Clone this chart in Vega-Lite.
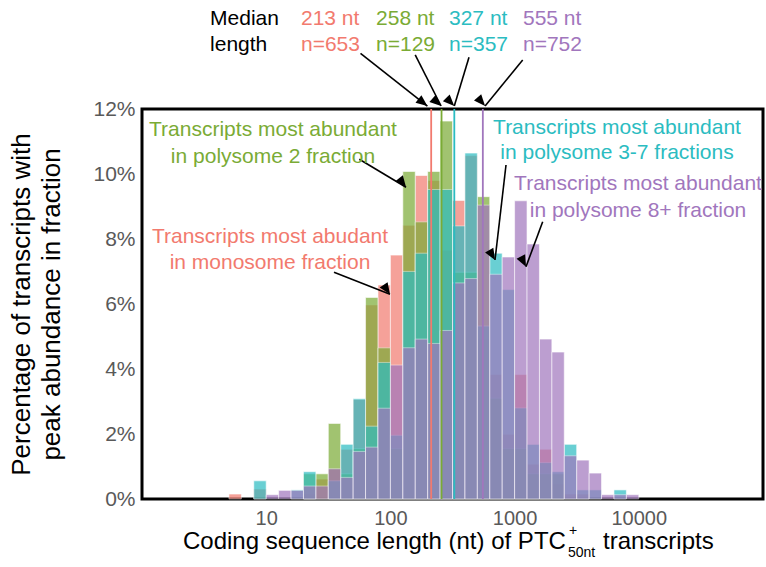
{
  "$schema": "https://vega.github.io/schema/vega-lite/v6.json",
  "autosize": "none",
  "width": 621,
  "height": 390,
  "padding": {"left": 142, "top": 109, "right": 3, "bottom": 68},
  "background": "white",
  "config": {
    "font": "Liberation Sans",
    "view": {"stroke": "black", "strokeWidth": 3},
    "axis": {"grid": false, "domain": false, "tickColor": "black", "tickWidth": 1.5, "labelFont": "Liberation Sans", "titleFont": "Liberation Sans"}
  },
  "datasets": {
    "bins": [
      {"g":"M","lo":5.012,"hi":6.310,"pct":0.153},
      {"g":"M","lo":7.943,"hi":10,"pct":0.306},
      {"g":"M","lo":19.953,"hi":25.119,"pct":0.153},
      {"g":"M","lo":25.119,"hi":31.623,"pct":0.613},
      {"g":"M","lo":31.623,"hi":39.811,"pct":0.919},
      {"g":"M","lo":39.811,"hi":50.119,"pct":1.531},
      {"g":"M","lo":50.119,"hi":63.096,"pct":3.063},
      {"g":"M","lo":63.096,"hi":79.433,"pct":5.972},
      {"g":"M","lo":79.433,"hi":100,"pct":6.585},
      {"g":"M","lo":100,"hi":125.89,"pct":7.504},
      {"g":"M","lo":125.89,"hi":158.49,"pct":8.423},
      {"g":"M","lo":158.49,"hi":199.53,"pct":9.954},
      {"g":"M","lo":199.53,"hi":251.19,"pct":9.801},
      {"g":"M","lo":251.19,"hi":316.23,"pct":7.657},
      {"g":"M","lo":316.23,"hi":398.11,"pct":9.188},
      {"g":"M","lo":398.11,"hi":501.19,"pct":10.567},
      {"g":"M","lo":501.19,"hi":630.96,"pct":4.900},
      {"g":"M","lo":630.96,"hi":794.33,"pct":3.828},
      {"g":"M","lo":794.33,"hi":1000,"pct":1.991},
      {"g":"M","lo":1000,"hi":1258.9,"pct":3.828},
      {"g":"M","lo":1258.9,"hi":1584.9,"pct":1.072},
      {"g":"M","lo":1584.9,"hi":1995.3,"pct":1.531},
      {"g":"M","lo":1995.3,"hi":2511.9,"pct":0.459},
      {"g":"M","lo":2511.9,"hi":3162.3,"pct":0.153},
      {"g":"M","lo":3162.3,"hi":3981.1,"pct":0.153},

      {"g":"P2","lo":19.953,"hi":25.119,"pct":0.775},
      {"g":"P2","lo":25.119,"hi":31.623,"pct":0.775},
      {"g":"P2","lo":31.623,"hi":39.811,"pct":2.326},
      {"g":"P2","lo":39.811,"hi":50.119,"pct":0.775},
      {"g":"P2","lo":50.119,"hi":63.096,"pct":1.550},
      {"g":"P2","lo":63.096,"hi":79.433,"pct":6.202},
      {"g":"P2","lo":79.433,"hi":100,"pct":4.651},
      {"g":"P2","lo":100,"hi":125.89,"pct":1.550},
      {"g":"P2","lo":125.89,"hi":158.49,"pct":10.078},
      {"g":"P2","lo":158.49,"hi":199.53,"pct":8.527},
      {"g":"P2","lo":199.53,"hi":251.19,"pct":10.078},
      {"g":"P2","lo":251.19,"hi":316.23,"pct":11.628},
      {"g":"P2","lo":316.23,"hi":398.11,"pct":6.977},
      {"g":"P2","lo":398.11,"hi":501.19,"pct":6.977},
      {"g":"P2","lo":501.19,"hi":630.96,"pct":9.302},
      {"g":"P2","lo":630.96,"hi":794.33,"pct":3.101},
      {"g":"P2","lo":794.33,"hi":1000,"pct":1.550},
      {"g":"P2","lo":1000,"hi":1258.9,"pct":1.550},
      {"g":"P2","lo":1258.9,"hi":1584.9,"pct":0.775},
      {"g":"P2","lo":1584.9,"hi":1995.3,"pct":0.775},
      {"g":"P2","lo":1995.3,"hi":2511.9,"pct":0.775},

      {"g":"P37","lo":7.943,"hi":10,"pct":0.560},
      {"g":"P37","lo":15.849,"hi":19.953,"pct":0.280},
      {"g":"P37","lo":19.953,"hi":25.119,"pct":0.840},
      {"g":"P37","lo":31.623,"hi":39.811,"pct":0.560},
      {"g":"P37","lo":39.811,"hi":50.119,"pct":1.681},
      {"g":"P37","lo":50.119,"hi":63.096,"pct":3.081},
      {"g":"P37","lo":63.096,"hi":79.433,"pct":2.241},
      {"g":"P37","lo":79.433,"hi":100,"pct":4.202},
      {"g":"P37","lo":100,"hi":125.89,"pct":1.961},
      {"g":"P37","lo":125.89,"hi":158.49,"pct":7.003},
      {"g":"P37","lo":158.49,"hi":199.53,"pct":7.563},
      {"g":"P37","lo":199.53,"hi":251.19,"pct":9.524},
      {"g":"P37","lo":251.19,"hi":316.23,"pct":9.524},
      {"g":"P37","lo":316.23,"hi":398.11,"pct":8.403},
      {"g":"P37","lo":398.11,"hi":501.19,"pct":10.644},
      {"g":"P37","lo":501.19,"hi":630.96,"pct":5.322},
      {"g":"P37","lo":630.96,"hi":794.33,"pct":7.563},
      {"g":"P37","lo":794.33,"hi":1000,"pct":6.443},
      {"g":"P37","lo":1000,"hi":1258.9,"pct":2.801},
      {"g":"P37","lo":1258.9,"hi":1584.9,"pct":1.681},
      {"g":"P37","lo":1584.9,"hi":1995.3,"pct":1.120},
      {"g":"P37","lo":1995.3,"hi":2511.9,"pct":0.840},
      {"g":"P37","lo":2511.9,"hi":3162.3,"pct":1.681},
      {"g":"P37","lo":3162.3,"hi":3981.1,"pct":0.280},
      {"g":"P37","lo":3981.1,"hi":5011.9,"pct":0.280},
      {"g":"P37","lo":6309.6,"hi":7943.3,"pct":0.280},

      {"g":"P8","lo":10,"hi":12.589,"pct":0.133},
      {"g":"P8","lo":12.589,"hi":15.849,"pct":0.266},
      {"g":"P8","lo":15.849,"hi":19.953,"pct":0.266},
      {"g":"P8","lo":19.953,"hi":25.119,"pct":0.399},
      {"g":"P8","lo":25.119,"hi":31.623,"pct":0.399},
      {"g":"P8","lo":31.623,"hi":39.811,"pct":0.931},
      {"g":"P8","lo":39.811,"hi":50.119,"pct":0.665},
      {"g":"P8","lo":50.119,"hi":63.096,"pct":1.463},
      {"g":"P8","lo":63.096,"hi":79.433,"pct":1.596},
      {"g":"P8","lo":79.433,"hi":100,"pct":2.793},
      {"g":"P8","lo":100,"hi":125.89,"pct":4.122},
      {"g":"P8","lo":125.89,"hi":158.49,"pct":4.654},
      {"g":"P8","lo":158.49,"hi":199.53,"pct":4.920},
      {"g":"P8","lo":199.53,"hi":251.19,"pct":4.787},
      {"g":"P8","lo":251.19,"hi":316.23,"pct":5.186},
      {"g":"P8","lo":316.23,"hi":398.11,"pct":6.649},
      {"g":"P8","lo":398.11,"hi":501.19,"pct":6.782},
      {"g":"P8","lo":501.19,"hi":630.96,"pct":9.043},
      {"g":"P8","lo":630.96,"hi":794.33,"pct":6.915},
      {"g":"P8","lo":794.33,"hi":1000,"pct":7.447},
      {"g":"P8","lo":1000,"hi":1258.9,"pct":9.176},
      {"g":"P8","lo":1258.9,"hi":1584.9,"pct":7.846},
      {"g":"P8","lo":1584.9,"hi":1995.3,"pct":4.920},
      {"g":"P8","lo":1995.3,"hi":2511.9,"pct":4.521},
      {"g":"P8","lo":2511.9,"hi":3162.3,"pct":1.330},
      {"g":"P8","lo":3162.3,"hi":3981.1,"pct":1.197},
      {"g":"P8","lo":3981.1,"hi":5011.9,"pct":0.798},
      {"g":"P8","lo":5011.9,"hi":6309.6,"pct":0.133},
      {"g":"P8","lo":6309.6,"hi":7943.3,"pct":0.133},
      {"g":"P8","lo":7943.3,"hi":10000,"pct":0.133}
    ],
    "medians": [
      {"g":"M","median":213},
      {"g":"P2","median":258},
      {"g":"P37","median":327},
      {"g":"P8","median":555}
    ],
    "arrows": [
      {"id":"a1","x":57.45,"y":13.714,"x2":198.6,"y2":12.092},
      {"id":"a2","x":158.4,"y":13.662,"x2":256.0,"y2":12.092},
      {"id":"a3","x":429.5,"y":13.591,"x2":326.9,"y2":12.092},
      {"id":"a4","x":1162,"y":13.508,"x2":578.7,"y2":12.092},
      {"id":"a5","x":56.19,"y":10.452,"x2":133.6,"y2":9.591},
      {"id":"a6","x":35.15,"y":6.975,"x2":99.26,"y2":6.298},
      {"id":"a7","x":852.7,"y":10.277,"x2":695.4,"y2":7.354},
      {"id":"a8","x":1683,"y":8.532,"x2":1235.6,"y2":7.148}
    ],
    "texts": [
      {"role":"head","g":"K","x":3.53,"y":14.77,"text":"Median"},
      {"role":"head","g":"K","x":3.53,"y":13.97,"text":"length"},
      {"role":"num","g":"M","x":19.06,"y":14.77,"text":"213 nt"},
      {"role":"num","g":"M","x":19.06,"y":13.97,"text":"n=653"},
      {"role":"num","g":"P2","x":76.6,"y":14.77,"text":"258 nt"},
      {"role":"num","g":"P2","x":76.6,"y":13.97,"text":"n=129"},
      {"role":"num","g":"P37","x":296.4,"y":14.77,"text":"327 nt"},
      {"role":"num","g":"P37","x":296.4,"y":13.97,"text":"n=357"},
      {"role":"num","g":"P8","x":1168,"y":14.77,"text":"555 nt"},
      {"role":"num","g":"P8","x":1168,"y":13.97,"text":"n=752"},
      {"role":"note","g":"P2","x":11.34,"y":11.354,"text":"Transcripts most abundant"},
      {"role":"note","g":"P2","x":11.34,"y":10.523,"text":"in polysome 2 fraction"},
      {"role":"note","g":"M","x":10.73,"y":8.062,"text":"Transcripts most abudant"},
      {"role":"note","g":"M","x":10.73,"y":7.262,"text":"in monosome fraction"},
      {"role":"note","g":"P37","x":6676,"y":11.415,"text":"Transcripts most abundant"},
      {"role":"note","g":"P37","x":6676,"y":10.646,"text":"in polysome 3-7 fractions"},
      {"role":"note","g":"P8","x":9854,"y":9.692,"text":"Transcripts most abundant"},
      {"role":"note","g":"P8","x":9854,"y":8.862,"text":"in polysome 8+ fraction"},
      {"role":"xt","g":"K","x":2.138,"y":-1.323,"text":"Coding sequence length (nt) of PTC"},
      {"role":"xt","g":"K","x":5150,"y":-1.323,"text":"transcripts"},
      {"role":"sup","g":"K","x":2742,"y":-0.985,"text":"+"},
      {"role":"sub","g":"K","x":2692,"y":-1.662,"text":"50nt"}
    ]
  },
  "layer": [
    {
      "data": {"name": "bins"},
      "mark": {"type": "rect", "opacity": 0.7, "stroke": "#ffffff", "strokeOpacity": 0.6, "strokeWidth": 1},
      "encoding": {
        "x": {"field": "lo", "type": "quantitative",
              "scale": {"type": "log", "domain": [1, 100000], "nice": false},
              "axis": {"values": [10, 100, 1000, 10000], "format": "d", "title": null, "labelFontSize": 20, "labelColor": "#595959", "ticks": false, "labelPadding": 9}},
        "x2": {"field": "hi"},
        "y": {"field": "pct", "type": "quantitative",
              "scale": {"domain": [0, 12], "nice": false},
              "axis": {"values": [0, 2, 4, 6, 8, 10, 12], "labelExpr": "datum.value + '%'", "labelFontSize": 21, "labelColor": "#595959", "ticks": false, "labelPadding": 7,
                       "title": ["Percentage of transcripts with", "peak abundance in fraction"], "titleFontSize": 26, "titleFontWeight": "normal", "titleColor": "black", "titleLineHeight": 30, "titlePadding": 28}},
        "y2": {"datum": 0},
        "color": {"field": "g", "type": "nominal",
                  "scale": {"domain": ["M", "P2", "P37", "P8", "K"], "range": ["#f27a6e", "#7aab35", "#2bbcc1", "#a176bd", "#000000"]},
                  "legend": null}
      }
    },
    {
      "data": {"name": "medians"},
      "mark": {"type": "rule", "strokeWidth": 1.8},
      "encoding": {
        "x": {"field": "median", "type": "quantitative"},
        "y": {"datum": 0},
        "y2": {"datum": 12},
        "color": {"field": "g", "type": "nominal"}
      }
    },
    {
      "data": {"name": "arrows"},
      "mark": {"type": "rule", "color": "black", "strokeWidth": 1.6},
      "encoding": {
        "x": {"field": "x", "type": "quantitative"},
        "y": {"field": "y", "type": "quantitative"},
        "x2": {"field": "x2"},
        "y2": {"field": "y2"}
      }
    },
    {
      "data": {"name": "arrows"},
      "mark": {"type": "point", "shape": "M0,0L-0.42,1L0.42,1Z", "filled": true, "color": "black", "opacity": 1, "size": 520},
      "encoding": {
        "x": {"field": "x2", "type": "quantitative"},
        "y": {"field": "y2", "type": "quantitative"},
        "angle": {"field": "id", "type": "nominal",
                  "scale": {"domain": ["a1","a2","a3","a4","a5","a6","a7","a8"], "range": [128.2, 153.1, 196.8, 219.3, 120.9, 111.4, 186.6, 200.4]},
                  "legend": null}
      }
    },
    {
      "data": {"name": "texts"},
      "transform": [{"filter": "datum.role == 'head' || datum.role == 'num'"}],
      "mark": {"type": "text", "align": "left", "baseline": "middle", "fontSize": 21},
      "encoding": {
        "x": {"field": "x", "type": "quantitative"},
        "y": {"field": "y", "type": "quantitative"},
        "text": {"field": "text"},
        "color": {"field": "g", "type": "nominal"}
      }
    },
    {
      "data": {"name": "texts"},
      "transform": [{"filter": "datum.role == 'note'"}],
      "mark": {"type": "text", "align": "center", "baseline": "middle", "fontSize": 21},
      "encoding": {
        "x": {"field": "x", "type": "quantitative"},
        "y": {"field": "y", "type": "quantitative"},
        "text": {"field": "text"},
        "color": {"field": "g", "type": "nominal"}
      }
    },
    {
      "data": {"name": "texts"},
      "transform": [{"filter": "datum.role == 'xt'"}],
      "mark": {"type": "text", "align": "left", "baseline": "middle", "fontSize": 24, "color": "black"},
      "encoding": {
        "x": {"field": "x", "type": "quantitative"},
        "y": {"field": "y", "type": "quantitative"},
        "text": {"field": "text"}
      }
    },
    {
      "data": {"name": "texts"},
      "transform": [{"filter": "datum.role == 'sup' || datum.role == 'sub'"}],
      "mark": {"type": "text", "align": "left", "baseline": "middle", "fontSize": 14, "color": "black"},
      "encoding": {
        "x": {"field": "x", "type": "quantitative"},
        "y": {"field": "y", "type": "quantitative"},
        "text": {"field": "text"}
      }
    }
  ]
}
